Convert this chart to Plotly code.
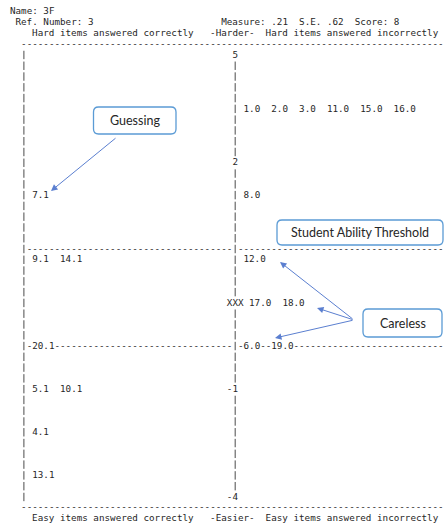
import plotly.graph_objects as go

# ---------------- data ----------------
student_name = "3F"
ref_number = "3"
measure = ".21"
std_error = ".62"
score = "8"

scale_labels = ["5", "2", "-1", "-4"]
scale_rows = [0, 10, 31, 41]

correct_items = ["7.1", "9.1", "14.1", "20.1", "5.1", "10.1", "4.1", "13.1"]
correct_rows = [13, 19, 19, 27, 31, 31, 35, 39]

incorrect_items = ["1.0", "2.0", "3.0", "11.0", "15.0", "16.0", "8.0",
                   "12.0", "17.0", "18.0", "6.0", "19.0"]
incorrect_rows = [5, 5, 5, 5, 5, 5, 13, 19, 23, 23, 27, 27]

student_mark = "XXX"
student_row = 23
threshold_rows = [18, 27]

header_texts = ["Hard items answered correctly", "-Harder-", "Hard items answered incorrectly"]
footer_texts = ["Easy items answered correctly", "-Easier-", "Easy items answered incorrectly"]

callout_labels = ["Guessing", "Student Ability Threshold", "Careless"]

# ---------------- character grid layout ----------------
W, H = 444, 524
CW, LH = 5.56, 10.78       # char advance, line height (px)
X0, Y0 = 10, 55.3          # left of col 0, centre of row 0 (px)
FIRST_ROW, LAST_ROW = 0, 41
LEFT_BAR, MID_BAR = 2, 40
LEFT_START, RIGHT_START = 4, 42
LINE_END = 78
INK = "#262626"
MONO = dict(family="DejaVu Sans Mono", size=9.25, color=INK)


def px_col(px):
    return (px - X0) / CW - 0.5


def px_row(py):
    return (py - Y0) / LH


def place(items, rows, start, overrides):
    xs, ys, ts, occ = [], [], [], set()
    cursor = {}
    for lab, r in zip(items, rows):
        c = cursor.get(r, overrides.get(r, start))
        xs.append(c + (len(lab) - 1) / 2)
        ys.append(r)
        ts.append(lab)
        for k in range(len(lab)):
            occ.add((r, c + k))
        cursor[r] = c + len(lab) + 2
    return xs, ys, ts, occ


cx, cy, ct, occ_c = place(correct_items, correct_rows, LEFT_START, {})
ix, iy, it, occ_i = place(incorrect_items, incorrect_rows, RIGHT_START,
                          {student_row: MID_BAR + len(student_mark) // 2 + 2})
occupied = occ_c | occ_i

# vertical bar segments ("|" per row) and dashes
bx, by = [], []
gx, gy, gt = [], [], []


def bar(r, c):
    bx.extend([c, c, None])
    by.extend([r - 0.42, r + 0.36, None])


def put(r, c, ch):
    gx.append(c)
    gy.append(r)
    gt.append(ch)


for r in range(FIRST_ROW, LAST_ROW + 1):
    bar(r, LEFT_BAR)
    if r not in scale_rows and r != student_row:
        bar(r, MID_BAR)
for r in threshold_rows:
    for c in range(LEFT_BAR + 1, LINE_END):
        if c != MID_BAR and (r, c) not in occupied:
            put(r, c, "-")
for r in (FIRST_ROW - 1, LAST_ROW + 1):
    for c in range(LEFT_BAR, LINE_END):
        put(r, c, "-")

# text lines (header/footer/ticks)
tx, ty, tt = [], [], []


def text_at(r, c, s):
    tx.append(c + (len(s) - 1) / 2)
    ty.append(r)
    tt.append(s)


text_at(FIRST_ROW - 4, 0, "Name: " + student_name)
text_at(FIRST_ROW - 3, 1, "Ref. Number: " + ref_number)
text_at(FIRST_ROW - 3, 38, f"Measure: {measure}  S.E. {std_error}  Score: {score}")
for s, c in zip(header_texts, [4, 36, 46]):
    text_at(FIRST_ROW - 2, c, s)
for s, c in zip(footer_texts, [4, 36, 46]):
    text_at(LAST_ROW + 2, c, s)
for lab, r in zip(scale_labels, scale_rows):
    text_at(r, MID_BAR - len(lab) + 1, lab)
text_at(student_row, MID_BAR - len(student_mark) // 2, student_mark)

fig = go.Figure()
common = dict(mode="text", textposition="middle center", textfont=MONO,
              hoverinfo="skip", showlegend=False)
fig.add_trace(go.Scatter(x=bx, y=by, mode="lines", line=dict(color="#4a4a4a", width=1),
                         hoverinfo="skip", showlegend=False))
fig.add_trace(go.Scatter(x=gx, y=gy, text=gt, **common))
fig.add_trace(go.Scatter(x=tx, y=ty, text=tt, **common))
fig.add_trace(go.Scatter(x=cx, y=cy, text=ct, name="correct", **common))
fig.add_trace(go.Scatter(x=ix, y=iy, text=it, name="incorrect", **common))

# ---------------- callouts ----------------
BOX = "#5b9bd5"
ARROW = "#5b7fd0"


def rrect(x0, y0, x1, y1, rad=5):
    X = lambda p: px_col(p)
    Y = lambda p: px_row(p)
    return (f"M {X(x0 + rad)} {Y(y0)} L {X(x1 - rad)} {Y(y0)} "
            f"Q {X(x1)} {Y(y0)} {X(x1)} {Y(y0 + rad)} L {X(x1)} {Y(y1 - rad)} "
            f"Q {X(x1)} {Y(y1)} {X(x1 - rad)} {Y(y1)} L {X(x0 + rad)} {Y(y1)} "
            f"Q {X(x0)} {Y(y1)} {X(x0)} {Y(y1 - rad)} L {X(x0)} {Y(y0 + rad)} "
            f"Q {X(x0)} {Y(y0)} {X(x0 + rad)} {Y(y0)} Z")


boxes = [(93.5, 107, 176, 134), (277, 220, 443, 245), (363, 309, 442, 337)]
for (x0, y0, x1, y1), lab in zip(boxes, callout_labels):
    fig.add_shape(type="path", path=rrect(x0, y0, x1, y1), xref="x", yref="y",
                  line=dict(color=BOX, width=1.3), fillcolor="white", layer="above")
    fig.add_annotation(x=px_col((x0 + x1) / 2), y=px_row((y0 + y1) / 2), xref="x", yref="y",
                       text=lab, showarrow=False,
                       font=dict(family="Lato", size=12.5, color=INK))

arrows = [((117, 137), (51, 191)), ((354, 320), (280, 262)),
          ((354, 320), (317, 308)), ((354, 320), (275, 338))]
for (tx0, ty0), (hx, hy) in arrows:
    fig.add_annotation(x=px_col(hx), y=px_row(hy), ax=px_col(tx0), ay=px_row(ty0),
                       xref="x", yref="y", axref="x", ayref="y", text="",
                       showarrow=True, arrowhead=2, arrowsize=1.3, arrowwidth=1,
                       arrowcolor=ARROW, standoff=0)

fig.update_layout(
    width=W, height=H, margin=dict(l=0, r=0, t=0, b=0),
    paper_bgcolor="white", plot_bgcolor="white",
    xaxis=dict(range=[px_col(0), px_col(W)], visible=False, fixedrange=True),
    yaxis=dict(range=[px_row(H), px_row(0)], visible=False, fixedrange=True),
)

fig.write_html("out.html", config={"displayModeBar": False},
               post_script="document.body.style.margin='0';document.body.style.overflow='hidden';")
